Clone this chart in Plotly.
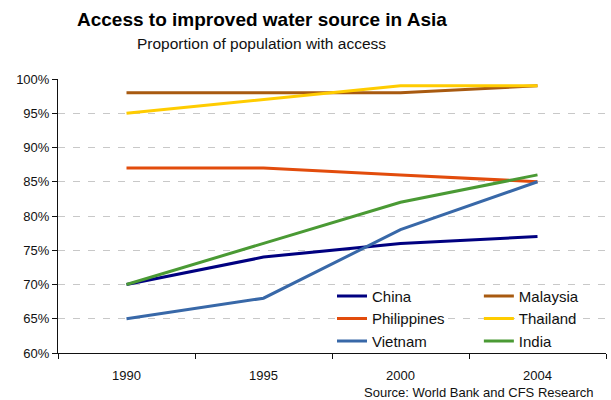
import plotly.graph_objects as go

# Survey years (evenly spaced categories on the x axis)
years = ["1990", "1995", "2000", "2004"]

# Share of population with access to an improved water source, %
china = [70, 74, 76, 77]
malaysia = [98, 98, 98, 99]
philippines = [87, 87, 86, 85]
thailand = [95, 97, 99, 99]
vietnam = [65, 68, 78, 85]
india = [70, 76, 82, 86]

# name, values, colour, legend column
series = [
    ("China", china, "#000080", "legend"),
    ("Malaysia", malaysia, "#A85A10", "legend2"),
    ("Philippines", philippines, "#E24C0C", "legend"),
    ("Thailand", thailand, "#FFCC00", "legend2"),
    ("Vietnam", vietnam, "#3868A8", "legend"),
    ("India", india, "#4A9A34", "legend2"),
]

y_ticks = [60, 65, 70, 75, 80, 85, 90, 95, 100]
y_ticktext = [f"{v}%" for v in y_ticks]

font_family = "Liberation Sans, Arial, sans-serif"

fig = go.Figure()
for name, values, color, leg in series:
    fig.add_trace(go.Scatter(
        x=years, y=values, name=name, mode="lines",
        line=dict(color=color, width=3), legend=leg,
    ))

legend_style = dict(
    orientation="v", yanchor="top", xanchor="left",
    font=dict(size=15, color="#111111"),
    bgcolor="rgba(0,0,0,0)", tracegroupgap=0,
)

fig.update_layout(
    width=611, height=400,
    margin=dict(l=58, r=5, t=79, b=47, autoexpand=False),
    paper_bgcolor="white", plot_bgcolor="white",
    font=dict(family=font_family, size=13, color="#111111"),
    showlegend=True,
    legend=dict(x=0.5, y=0.267, **legend_style),
    legend2=dict(x=0.768, y=0.267, **legend_style),
    xaxis=dict(
        type="category", categoryorder="array", categoryarray=years,
        range=[-0.5, 3.5],
        showline=True, linecolor="#111111", linewidth=1,
        ticks="outside", tickson="boundaries", ticklen=5,
        tickcolor="#111111", showgrid=False,
        ticklabelstandoff=10,
        tickfont=dict(size=13),
    ),
    yaxis=dict(
        range=[60, 100], tickmode="array",
        tickvals=y_ticks, ticktext=y_ticktext,
        showline=True, linecolor="#111111", linewidth=1,
        ticks="outside", ticklen=5, tickcolor="#111111",
        showgrid=True, gridcolor="#C8C8C8", griddash="7px,8px",
        gridwidth=1, zeroline=False,
        tickfont=dict(size=13),
    ),
    annotations=[
        dict(text="<b>Access to improved water source in Asia</b>",
             xref="paper", yref="paper", x=0.372, y=1.2175,
             xanchor="center", yanchor="middle", showarrow=False,
             font=dict(size=19, color="#000000")),
        dict(text="Proportion of population with access",
             xref="paper", yref="paper", x=0.372, y=1.13,
             xanchor="center", yanchor="middle", showarrow=False,
             font=dict(size=15.5, color="#111111")),
        dict(text="Source: World Bank and CFS Research",
             xref="paper", yref="paper", x=0.768, y=-0.144,
             xanchor="center", yanchor="middle", showarrow=False,
             font=dict(size=13, color="#111111")),
    ],
)

fig.write_html("out.html")
